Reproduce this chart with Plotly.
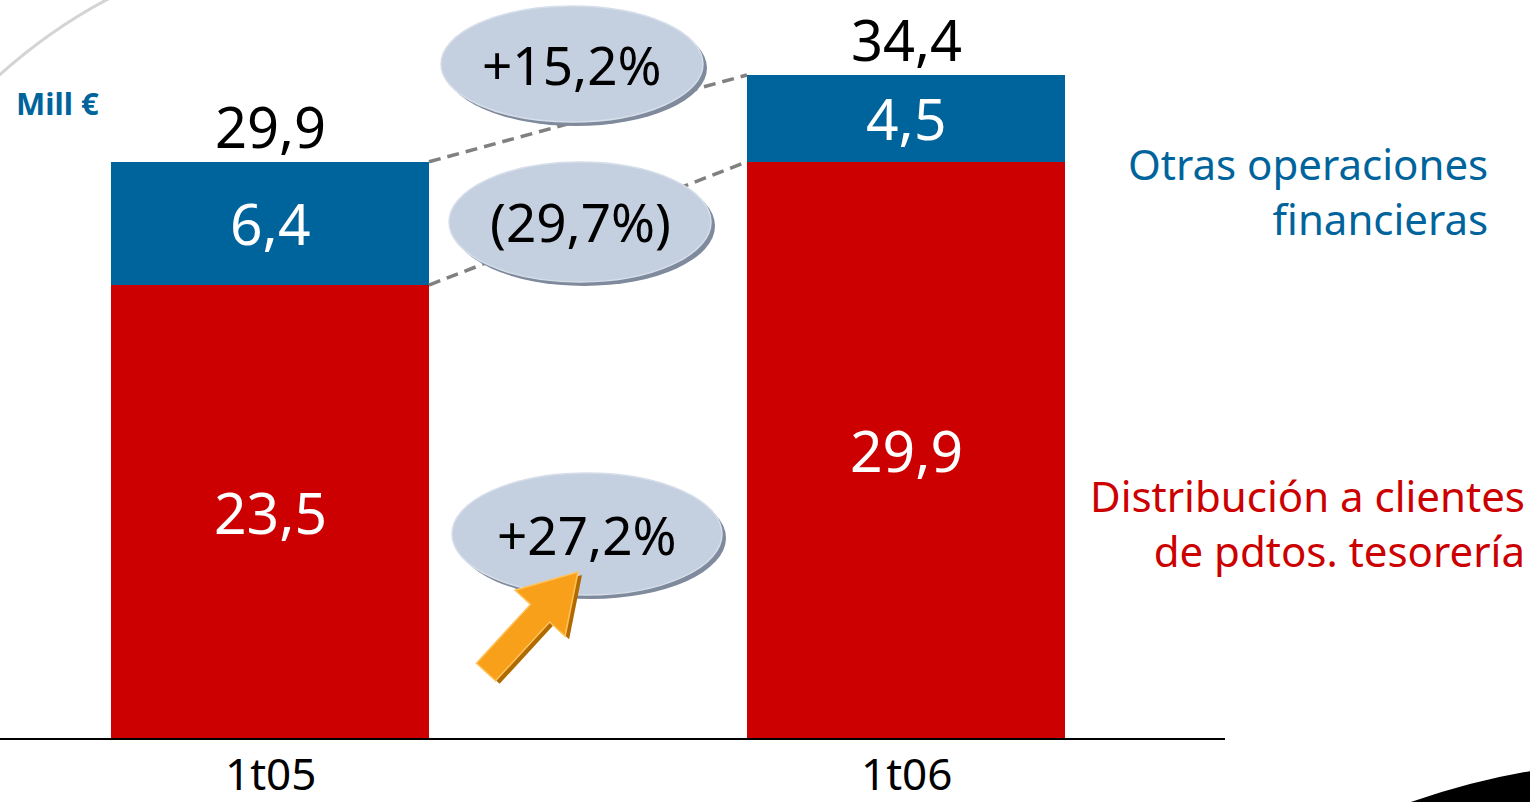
import plotly.graph_objects as go

# Data (Mill €)
periods = ["1t05", "1t06"]
distribucion = [23.5, 29.9]   # Distribución a clientes de pdtos. tesorería
otras = [6.4, 4.5]            # Otras operaciones financieras
totales = [29.9, 34.4]
variaciones = ["+15,2%", "(29,7%)", "+27,2%"]  # total, otras, distribución

BLUE = "#00649C"
RED = "#CC0000"
FONT = "Noto Sans"

W, H = 1530, 802
ML, MR, MT, MB = 0, 305, 0, 64
PW, PH = W - ML - MR, H - MT - MB
BAR_W = 0.5


def px(x):
    return (x - ML) / PW


def py(y):
    return 1 - (y - MT) / PH


def fmt(v):
    return f"{v:.1f}".replace(".", ",")


xs = list(range(len(periods)))

fig = go.Figure()
fig.add_trace(go.Bar(x=xs, y=distribucion, width=BAR_W, marker=dict(color=RED, line_width=0),
                     name="Distribución a clientes de pdtos. tesorería", hoverinfo="skip"))
fig.add_trace(go.Bar(x=xs, y=otras, width=BAR_W, marker=dict(color=BLUE, line_width=0),
                     name="Otras operaciones financieras", hoverinfo="skip"))

ann = []
shapes = []

# segment values inside bars, totals above
for i in xs:
    ann.append(dict(x=i, y=distribucion[i] / 2, text=fmt(distribucion[i]), showarrow=False,
                    xanchor="center", yanchor="middle",
                    font=dict(family=FONT, size=57, color="white")))
    ann.append(dict(x=i, y=distribucion[i] + otras[i] / 2, text=fmt(otras[i]), showarrow=False,
                    xanchor="center", yanchor="middle",
                    font=dict(family=FONT, size=57, color="white")))
    ann.append(dict(x=i, y=totales[i], text=fmt(totales[i]), showarrow=False, xanchor="center",
                    yanchor="bottom", yshift=-4,
                    font=dict(family=FONT, size=56, color="black")))

# dashed connectors between bar tops
for a, b in [(totales[0], totales[1]), (distribucion[0], distribucion[1])]:
    shapes.append(dict(type="line", xref="x", yref="y", x0=xs[0] + BAR_W / 2, y0=a,
                       x1=xs[1] - BAR_W / 2, y1=b, layer="above",
                       line=dict(color="#808080", width=3.5, dash="12px,7px")))

# growth bubbles
bubbles = [(572, 64, 131, 58), (580, 222, 131, 60), (587, 534, 135, 61)]
for (cx, cy, rx, ry), txt in zip(bubbles, variaciones):
    shapes.append(dict(type="circle", xref="paper", yref="paper", layer="above",
                       x0=px(cx - rx + 4), x1=px(cx + rx + 4), y0=py(cy + ry + 4), y1=py(cy - ry + 4),
                       fillcolor="#7F8A9C", line_width=0))
    shapes.append(dict(type="circle", xref="paper", yref="paper", layer="above",
                       x0=px(cx - rx), x1=px(cx + rx), y0=py(cy + ry), y1=py(cy - ry),
                       fillcolor="#C4CFE0", line=dict(color="#D6DEEA", width=1.5)))
    ann.append(dict(xref="paper", yref="paper", x=px(cx), y=py(cy), text=txt, showarrow=False,
                    xanchor="center", yanchor="middle",
                    font=dict(family=FONT, size=53, color="black")))

# orange arrow pointing at the bottom bubble
tail, tip = (486, 672), (578, 572)
dx, dy = tip[0] - tail[0], tip[1] - tail[1]
L = (dx ** 2 + dy ** 2) ** 0.5
ux, uy = dx / L, dy / L
nx, ny = -uy, ux
sw, hw, hl = 13, 34, 56
nk = (tip[0] - ux * hl, tip[1] - uy * hl)
pts = [
    (tail[0] + nx * sw, tail[1] + ny * sw),
    (nk[0] + nx * sw, nk[1] + ny * sw),
    (nk[0] + nx * hw, nk[1] + ny * hw),
    tip,
    (nk[0] - nx * hw, nk[1] - ny * hw),
    (nk[0] - nx * sw, nk[1] - ny * sw),
    (tail[0] - nx * sw, tail[1] - ny * sw),
]


def poly(points, ox=0, oy=0):
    return "M " + " L ".join(f"{px(x + ox):.5f},{py(y + oy):.5f}" for x, y in points) + " Z"


shapes.append(dict(type="path", xref="paper", yref="paper", layer="above", path=poly(pts, 4, 3),
                   fillcolor="#B06A00", line_width=0))
shapes.append(dict(type="path", xref="paper", yref="paper", layer="above", path=poly(pts),
                   fillcolor="#F9A01B", line=dict(color="#FFC25A", width=1.5)))

# decorative background curves
shapes.append(dict(type="path", xref="paper", yref="paper", layer="below",
                   path=f"M {px(-5)},{py(79)} Q {px(50.5)},{py(28.5)} {px(112)},{py(-3)}",
                   line=dict(color="#D4D4D4", width=3)))
shapes.append(dict(type="path", xref="paper", yref="paper", layer="above",
                   path=f"M {px(1408)},{py(803)} Q {px(1471)},{py(781)} {px(1531)},{py(771)} "
                        f"L {px(1531)},{py(803)} Z",
                   fillcolor="black", line_width=0))

# unit label and series labels
ann.append(dict(xref="paper", yref="paper", x=px(14), y=py(103), xanchor="left", yanchor="middle",
                text="<b>Mill €</b>", showarrow=False, font=dict(family=FONT, size=31, color=BLUE)))
ann.append(dict(xref="paper", yref="paper", x=px(1490), y=py(191), xanchor="right", yanchor="middle",
                align="right", text="Otras operaciones<br>financieras", showarrow=False,
                font=dict(family=FONT, size=42, color=BLUE)))
ann.append(dict(xref="paper", yref="paper", x=px(1527), y=py(523), xanchor="right", yanchor="middle",
                align="right", text="Distribución a clientes<br>de pdtos. tesorería", showarrow=False,
                font=dict(family=FONT, size=42, color=RED)))

# category labels under the axis
for i in xs:
    ann.append(dict(x=i, xref="x", yref="paper", y=0, yanchor="top", yshift=-3, xanchor="center",
                    text=periods[i], showarrow=False,
                    font=dict(family=FONT, size=44, color="black")))

fig.update_layout(
    width=W, height=H,
    margin=dict(l=ML, r=MR, t=MT, b=MB, autoexpand=False),
    barmode="stack",
    showlegend=False,
    paper_bgcolor="white",
    plot_bgcolor="white",
    annotations=ann,
    shapes=shapes,
    xaxis=dict(range=[-270 / 636, (1225 - 270) / 636], tickmode="array", tickvals=xs,
               showticklabels=False, showline=True, linecolor="black", linewidth=2,
               showgrid=False, zeroline=False, ticks="", automargin=False, fixedrange=True),
    yaxis=dict(range=[0, 34.4 * PH / (738 - 75)], visible=False, fixedrange=True, automargin=False),
)

fig.write_html("out.html", config={"displayModeBar": False})
